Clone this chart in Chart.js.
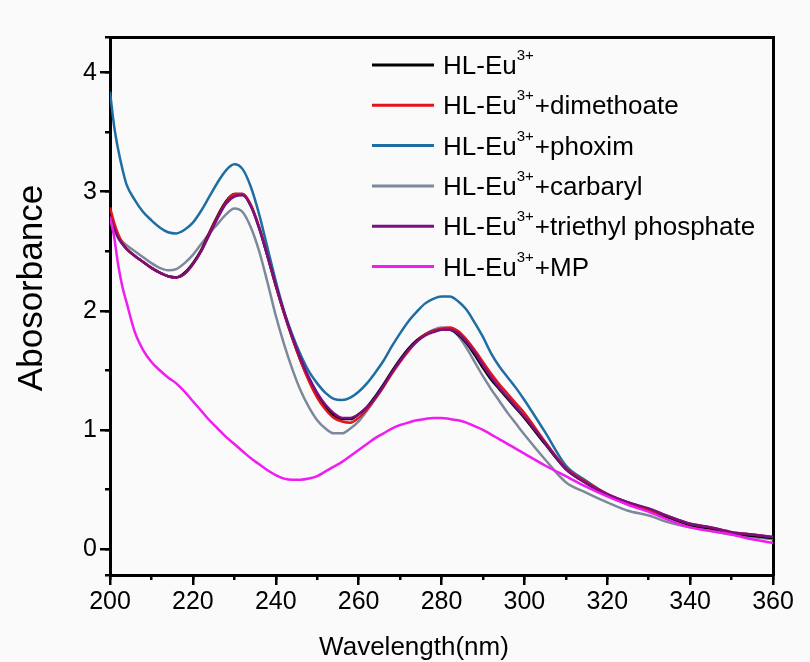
<!DOCTYPE html>
<html>
<head>
<meta charset="utf-8">
<title>Absorbance spectra</title>
<script src="https://cdn.jsdelivr.net/npm/chart.js@4.4.0/dist/chart.umd.min.js"></script>
<style>
  html, body { margin: 0; padding: 0; background: #fafafb; }
  #chart { display: block; }
</style>
</head>
<body>
<canvas id="chart" width="810" height="662"></canvas>
<script>
'use strict';

const FONT = '"Liberation Sans", Arial, Helvetica, sans-serif';

// wavelength (nm), shared by every curve
const wavelengths = [
  200, 201, 202, 203, 204,
  206, 208, 210, 212, 214, 216, 218, 220,
  222, 224, 226, 228, 230, 232, 234, 236, 238, 240,
  242, 244, 246, 248, 250, 252, 254, 256, 258, 260,
  262, 264, 266, 268, 270, 272, 274, 276, 278, 280,
  282, 284, 286, 288, 290, 292, 294, 296, 298, 300,
  305, 310, 315, 320, 325, 330, 335, 340, 345, 350, 355, 360
];

const hlEu = [
  2.81, 2.70, 2.62, 2.56, 2.52,
  2.46, 2.41, 2.36, 2.32, 2.29, 2.28, 2.32, 2.40,
  2.51, 2.66, 2.80, 2.92, 2.98, 2.98, 2.88, 2.70, 2.46, 2.21,
  1.98, 1.77, 1.58, 1.42, 1.29, 1.19, 1.12, 1.09, 1.09, 1.13,
  1.19, 1.28, 1.38, 1.49, 1.59, 1.68, 1.75, 1.80, 1.83, 1.84,
  1.84, 1.80, 1.73, 1.63, 1.52, 1.42, 1.34, 1.26, 1.18, 1.10,
  0.88, 0.67, 0.55, 0.45, 0.38, 0.33, 0.26, 0.20, 0.17, 0.13, 0.11, 0.09
];

const dimethoate = [
  2.87, 2.74, 2.64, 2.57, 2.52,
  2.46, 2.41, 2.36, 2.32, 2.29, 2.28, 2.31, 2.39,
  2.50, 2.65, 2.79, 2.91, 2.98, 2.98, 2.89, 2.70, 2.46, 2.21,
  1.98, 1.77, 1.58, 1.41, 1.27, 1.17, 1.10, 1.07, 1.06, 1.10,
  1.17, 1.26, 1.36, 1.47, 1.57, 1.66, 1.74, 1.80, 1.83, 1.85,
  1.86, 1.83, 1.76, 1.67, 1.57, 1.47, 1.38, 1.30, 1.22, 1.14,
  0.90, 0.68, 0.56, 0.46, 0.39, 0.33, 0.27, 0.21, 0.18, 0.14, 0.12, 0.10
];

const phoxim = [
  3.84, 3.55, 3.35, 3.19, 3.06,
  2.93, 2.83, 2.76, 2.70, 2.66, 2.65, 2.68, 2.74,
  2.84, 2.96, 3.08, 3.18, 3.23, 3.19, 3.04, 2.81, 2.53, 2.25,
  2.00, 1.80, 1.63, 1.49, 1.39, 1.31, 1.26, 1.25, 1.27, 1.32,
  1.39, 1.48, 1.58, 1.70, 1.81, 1.91, 1.99, 2.06, 2.10, 2.12,
  2.12, 2.08, 2.01, 1.90, 1.78, 1.64, 1.53, 1.44, 1.35, 1.25,
  0.98, 0.70, 0.57, 0.46, 0.39, 0.33, 0.26, 0.20, 0.17, 0.13, 0.11, 0.09
];

const carbaryl = [
  2.76, 2.68, 2.62, 2.58, 2.55,
  2.50, 2.45, 2.40, 2.36, 2.34, 2.35, 2.40, 2.47,
  2.56, 2.65, 2.73, 2.81, 2.86, 2.83, 2.70, 2.50, 2.24, 1.96,
  1.72, 1.51, 1.33, 1.19, 1.08, 1.01, 0.97, 0.97, 1.01, 1.07,
  1.16, 1.26, 1.37, 1.48, 1.59, 1.68, 1.75, 1.80, 1.84, 1.86,
  1.85, 1.79, 1.69, 1.57, 1.45, 1.34, 1.24, 1.14, 1.05, 0.96,
  0.75, 0.56, 0.47, 0.39, 0.32, 0.28, 0.22, 0.18, 0.15, 0.12, 0.10, 0.08
];

const triethylPhosphate = [
  2.79, 2.69, 2.61, 2.56, 2.52,
  2.46, 2.41, 2.36, 2.32, 2.29, 2.28, 2.31, 2.39,
  2.50, 2.64, 2.78, 2.90, 2.96, 2.97, 2.88, 2.69, 2.46, 2.22,
  1.99, 1.78, 1.60, 1.44, 1.31, 1.21, 1.14, 1.10, 1.10, 1.13,
  1.19, 1.27, 1.37, 1.48, 1.58, 1.67, 1.74, 1.79, 1.82, 1.84,
  1.84, 1.81, 1.74, 1.65, 1.54, 1.44, 1.35, 1.27, 1.19, 1.11,
  0.89, 0.67, 0.55, 0.46, 0.39, 0.34, 0.27, 0.21, 0.18, 0.14, 0.12, 0.10
];

const mp = [
  2.79, 2.62, 2.38, 2.20, 2.07,
  1.82, 1.67, 1.57, 1.50, 1.44, 1.39, 1.32, 1.24,
  1.16, 1.08, 1.01, 0.94, 0.88, 0.82, 0.76, 0.71, 0.66, 0.62,
  0.59, 0.58, 0.58, 0.59, 0.61, 0.65, 0.69, 0.73, 0.78, 0.83,
  0.88, 0.93, 0.97, 1.01, 1.04, 1.06, 1.08, 1.09, 1.10, 1.10,
  1.09, 1.08, 1.06, 1.03, 1.00, 0.96, 0.92, 0.88, 0.84, 0.80,
  0.70, 0.61, 0.52, 0.44, 0.37, 0.31, 0.24, 0.18, 0.15, 0.12, 0.08, 0.05
];

// legend text: base + superscript + suffix
const legendBase = 'HL-Eu';
const legendSup = '3+';
const legendSuffixes = ['', '+dimethoate', '+phoxim', '+carbaryl', '+triethyl phosphate', '+MP'];

const xTicks = [200, 220, 240, 260, 280, 300, 320, 340, 360];
const yTicks = [0, 1, 2, 3, 4];
const xTitle = 'Wavelength(nm)';
const yTitle = 'Abosorbance';

const series = [hlEu, dimethoate, phoxim, carbaryl, triethylPhosphate, mp];
const colors = ['#000000', '#e3141c', '#1f6ea3', '#7d889a', '#7a0f7e', '#f01cf0'];
const drawOrder = [3, 2, 4, 5, 1, 0];

const toPoints = (vals) => wavelengths.map((w, i) => ({ x: w, y: vals[i] }));

const datasets = series.map((vals, i) => ({
  label: legendBase + legendSup + legendSuffixes[i],
  data: toPoints(vals),
  borderColor: colors[i],
  backgroundColor: colors[i],
  borderWidth: 2.5,
  pointRadius: 0,
  cubicInterpolationMode: 'monotone',
  order: drawOrder[i]
}));

// legend with superscripts + axis titles
const annotations = {
  id: 'annotations',
  afterDraw(chart) {
    const ctx = chart.ctx;
    const area = chart.chartArea;
    ctx.save();
    ctx.fillStyle = '#000';
    ctx.textAlign = 'left';
    ctx.textBaseline = 'alphabetic';

    legendSuffixes.forEach((suffix, i) => {
      const y = area.top + 28 + i * 40.3;
      ctx.strokeStyle = colors[i];
      ctx.lineWidth = 3;
      ctx.beginPath();
      ctx.moveTo(372, y);
      ctx.lineTo(434, y);
      ctx.stroke();

      let x = 443;
      ctx.font = `26px ${FONT}`;
      ctx.fillText(legendBase, x, y + 9);
      x += ctx.measureText(legendBase).width;
      ctx.font = `15px ${FONT}`;
      ctx.fillText(legendSup, x, y - 5);
      x += ctx.measureText(legendSup).width + 1;
      ctx.font = `26px ${FONT}`;
      ctx.fillText(suffix, x, y + 9);
    });

    // x title
    ctx.textAlign = 'center';
    ctx.font = `26px ${FONT}`;
    ctx.fillText(xTitle, 414, 655);

    // y title
    ctx.translate(42, 288);
    ctx.rotate(-Math.PI / 2);
    ctx.font = `35px ${FONT}`;
    ctx.fillText(yTitle, 0, 0);
    ctx.restore();
  }
};

const tickFont = { family: FONT, size: 25 };
const blackGrid = { drawOnChartArea: false, drawTicks: true, color: '#000', tickColor: '#000', lineWidth: 2.5 };

new Chart(document.getElementById('chart'), {
  type: 'line',
  data: { datasets: datasets },
  plugins: [annotations],
  options: {
    responsive: false,
    animation: false,
    devicePixelRatio: 1,
    layout: { padding: { left: 0, top: 37, right: 37, bottom: 0 } },
    plugins: { legend: { display: false }, tooltip: { enabled: false } },
    scales: {
      x: {
        type: 'linear', position: 'bottom', min: 200, max: 360, weight: 1,
        afterBuildTicks: (s) => { s.ticks = xTicks.map(v => ({ value: v })); },
        ticks: { color: '#000', font: tickFont, padding: 2, maxRotation: 0, autoSkip: false },
        grid: Object.assign({}, blackGrid, { tickLength: 10 }),
        border: { display: true, color: '#000', width: 3 },
        afterFit: (s) => { s.height = 87; }
      },
      xMinor: {
        type: 'linear', position: 'bottom', min: 200, max: 360, weight: 0,
        ticks: { stepSize: 10, display: false },
        grid: Object.assign({}, blackGrid, { tickLength: 5 }),
        border: { display: false },
        afterFit: (s) => { s.height = 0; }
      },
      xTop: {
        type: 'linear', position: 'top', min: 200, max: 360,
        ticks: { display: false },
        grid: { display: false },
        border: { display: true, color: '#000', width: 3 },
        afterFit: (s) => { s.height = 0; }
      },
      y: {
        type: 'linear', position: 'left', min: -0.22, max: 4.3, weight: 1,
        afterBuildTicks: (s) => { s.ticks = yTicks.map(v => ({ value: v })); },
        ticks: { color: '#000', font: tickFont, padding: 3 },
        grid: Object.assign({}, blackGrid, { tickLength: 10 }),
        border: { display: true, color: '#000', width: 3 },
        afterFit: (s) => { s.width = 110; }
      },
      yMinor: {
        type: 'linear', position: 'left', min: -0.22, max: 4.3, weight: 0,
        ticks: { stepSize: 0.5, display: false },
        grid: Object.assign({}, blackGrid, { tickLength: 5 }),
        border: { display: false },
        afterFit: (s) => { s.width = 0; }
      },
      yRight: {
        type: 'linear', position: 'right', min: -0.22, max: 4.3,
        ticks: { display: false },
        grid: { display: false },
        border: { display: true, color: '#000', width: 3 },
        afterFit: (s) => { s.width = 0; }
      }
    }
  }
});
</script>
</body>
</html>
